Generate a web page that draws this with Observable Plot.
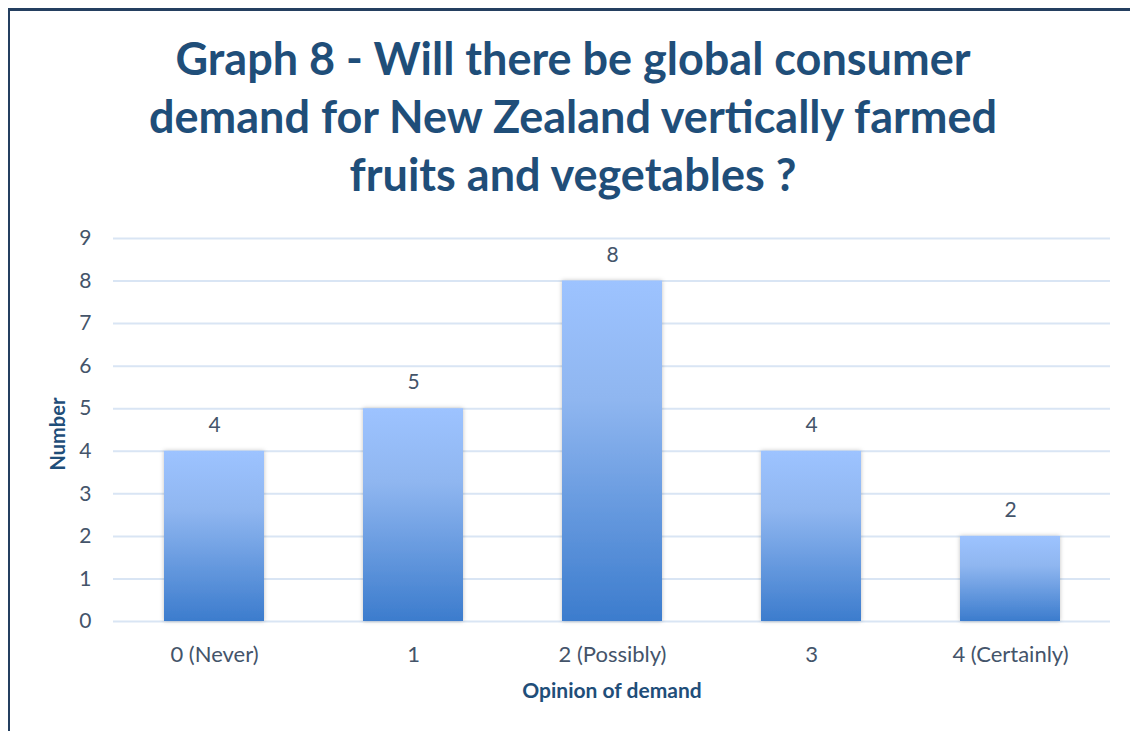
<!DOCTYPE html>
<html>
<head>
<meta charset="utf-8">
<script src="https://cdn.jsdelivr.net/npm/d3@7"></script>
<script src="https://cdn.jsdelivr.net/npm/@observablehq/plot@0.6"></script>
<style>
  html, body { margin: 0; padding: 0; background: #fff; }
  #frame { position: absolute; left: 8px; top: 8px; width: 1130px; height: 731px;
           border-top: 3px solid #243f60; border-left: 2px solid #243f60; box-sizing: border-box; }
  #wrap { position: absolute; left: 0; top: 0; width: 1130px; }
  #title { height: 215px; box-sizing: border-box; padding-top: 29px; padding-left: 16px; text-align: center;
           font-family: Lato, "Open Sans", sans-serif; font-weight: bold; font-size: 45px;
           line-height: 58px; color: #1f4e79; }
  svg text { font-family: Lato, "Open Sans", sans-serif; }
</style>
</head>
<body>
<div id="frame"></div>
<div id="wrap">
  <div id="title">Graph 8 - Will there be global consumer<br>demand for New Zealand vertically farmed<br>fruits and vegetables ?</div>
  <div id="chart"></div>
</div>
<script>
const categories = ["0 (Never)", "1", "2 (Possibly)", "3", "4 (Certainly)"];
const counts = [4, 5, 8, 4, 2];
const yTicks = [0, 1, 2, 3, 4, 5, 6, 7, 8, 9];

const data = categories.map((c, i) => ({category: c, value: counts[i]}));

const chart = Plot.plot({
  width: 1130,
  height: 516,
  marginTop: 23,
  marginBottom: 110,
  marginLeft: 113,
  marginRight: 20,
  style: {fontSize: "21px", color: "#44546a", background: "transparent"},
  x: {domain: categories, paddingInner: 0.5, paddingOuter: 0.25, label: null},
  y: {domain: [0, 9], ticks: yTicks, label: null},
  marks: [
    Plot.ruleY(yTicks, {stroke: "#d9e5f4", strokeWidth: 2}),
    Plot.barY(data, {x: "category", y: "value", fill: "url(#barGrad)"}),
    Plot.text(data, {x: "category", y: "value", text: d => String(d.value), dy: -26, fill: "#44546a", fontSize: 21}),
    Plot.axisY({ticks: yTicks, tickSize: 0, tickPadding: 22, fontSize: 21, fill: "#44546a", label: null}),
    Plot.axisX({tickSize: 0, tickPadding: 25, fontSize: 22, fill: "#44546a", label: null}),
    Plot.text(["Opinion of demand"], {frameAnchor: "bottom", dy: 76, fontWeight: "bold", fontSize: 21, fill: "#1f4e79"}),
    Plot.text(["Number"], {frameAnchor: "left", dx: -55, dy: 4, rotate: -90, textAnchor: "middle", fontWeight: "bold", fontSize: 20, fill: "#1f4e79"})
  ]
});

const ns = "http://www.w3.org/2000/svg";
const defs = document.createElementNS(ns, "defs");
defs.innerHTML = `
  <linearGradient id="barGrad" x1="0" y1="0" x2="0" y2="1">
    <stop offset="0" stop-color="#9dc3ff"/>
    <stop offset="0.35" stop-color="#8fb6f0"/>
    <stop offset="1" stop-color="#3c7ccd"/>
  </linearGradient>
  <filter id="shadow" x="-10%" y="-10%" width="120%" height="120%">
    <feDropShadow dx="0" dy="0" stdDeviation="2" flood-color="#000" flood-opacity="0.25"/>
  </filter>`;
chart.insertBefore(defs, chart.firstChild);
chart.querySelectorAll("rect").forEach(r => {
  if (r.getAttribute("fill") === "url(#barGrad)" || r.parentNode.getAttribute("fill") === "url(#barGrad)") {
    r.setAttribute("filter", "url(#shadow)");
  }
});
document.getElementById("chart").appendChild(chart);
</script>
</body>
</html>
